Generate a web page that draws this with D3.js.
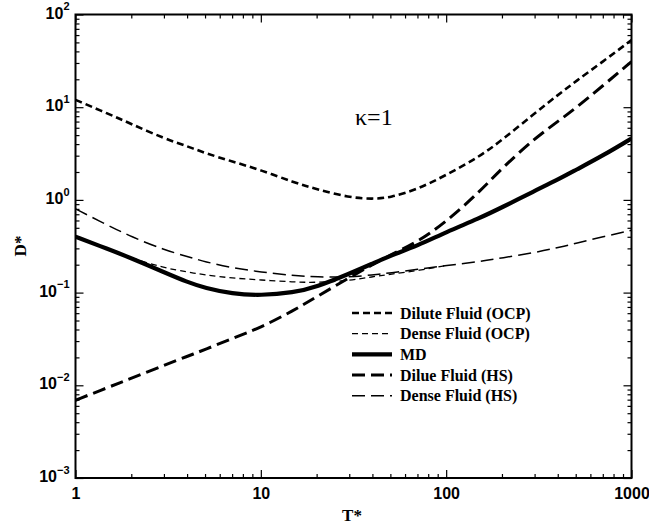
<!DOCTYPE html>
<html>
<head>
<meta charset="utf-8">
<script src="https://cdn.jsdelivr.net/npm/d3@7"></script>
<style>
  body { margin: 0; background: #fff; }
  svg { display: block; }
</style>
</head>
<body>
<svg id="chart" width="649" height="525"></svg>
<script>
// Reduced temperature grid shared by all curves
const tValues = [1, 1.5, 2, 3, 4, 5, 7, 10, 15, 20, 30, 40, 50, 70, 100, 150, 200, 300, 400, 500, 700, 1000];

// Reduced self-diffusion coefficient D* for each model (null = not computed)
const diluteOCP = [12, 8.5, 6.6, 4.6, 3.8, 3.2, 2.6, 2.1, 1.55, 1.3, 1.06, 1.02, 1.06, 1.3, 1.85, 2.9, 4.4, 8.6, 13.5, 19, 31, 53];
const denseOCP  = [0.40, 0.295, 0.235, 0.185, 0.167, 0.155, 0.143, 0.137, 0.13, 0.128, 0.135, 0.148, 0.158, 0.172, 0.196, null, null, null, null, null, null, null];
const mdValues  = [0.40, 0.295, 0.235, 0.166, 0.13, 0.112, 0.097, 0.093, 0.1, 0.115, 0.16, 0.205, 0.25, 0.32, 0.45, 0.63, 0.83, 1.25, 1.65, 2.1, 3.0, 4.6];
const diluteHS  = [0.0069, 0.0095, 0.0119, 0.0164, 0.0205, 0.0243, 0.032, 0.042, 0.064, 0.09, 0.145, 0.2, 0.255, 0.35, 0.58, 1.2, 2.2, 4.6, 7.0, 9.8, 17, 31];
const denseHS   = [0.80, 0.53, 0.40, 0.29, 0.245, 0.215, 0.185, 0.167, 0.152, 0.147, 0.147, 0.155, 0.163, 0.178, 0.196, 0.215, 0.237, 0.27, 0.305, 0.34, 0.40, 0.47];

const seriesNames = ["Dilute Fluid (OCP)", "Dense Fluid (OCP)", "MD", "Dilue Fluid (HS)", "Dense Fluid (HS)"];
const seriesValues = [diluteOCP, denseOCP, mdValues, diluteHS, denseHS];

// Axis ticks
const xMajorTicks = [1, 10, 100, 1000];
const xTickLabels = ["1", "10", "100", "1000"];
const yExponents = [-3, -2, -1, 0, 1, 2];

const annotation = "κ=1";
const xTitle = "T*";
const yTitle = "D*";

// Line styles per series
const styles = [
  { width: 2.6, dash: "7,4" },
  { width: 1.3, dash: "6,4" },
  { width: 4.2, dash: null },
  { width: 3.0, dash: "13,6" },
  { width: 1.5, dash: "13,6" }
];

const svg = d3.select("#chart");
const plotLeft = 75.5, plotRight = 631.5, plotTop = 14.5, plotBottom = 478;

const x = d3.scaleLog().domain([1, 1000]).range([plotLeft, plotRight]);
const y = d3.scaleLog().domain([1e-3, 1e2]).range([plotBottom, plotTop]);

// Minor ticks: 2..9 in each decade
const minorX = [];
for (let d = 0; d < 3; d++) for (let k = 2; k <= 9; k++) minorX.push(k * Math.pow(10, d));
const minorY = [];
for (let d = -3; d < 2; d++) for (let k = 2; k <= 9; k++) minorY.push(k * Math.pow(10, d));
const yMajor = yExponents.map(e => Math.pow(10, e));

const majorLen = 8, minorLen = 4;

function styleAxis(g) {
  g.select(".domain").remove();
  g.selectAll(".tick line").attr("stroke", "#000").attr("stroke-width", 1.2);
}

// Bottom axis with labels
svg.append("g")
  .attr("transform", `translate(0,${plotBottom})`)
  .call(d3.axisBottom(x).tickValues(xMajorTicks).tickSizeInner(-majorLen).tickSizeOuter(0).tickPadding(10)
    .tickFormat((d, i) => xTickLabels[i]))
  .call(styleAxis)
  .call(g => g.selectAll("text")
    .attr("font-family", "Liberation Sans, Arial, sans-serif")
    .attr("font-weight", "bold").attr("font-size", 16).attr("fill", "#000"));
svg.append("g")
  .attr("transform", `translate(0,${plotBottom})`)
  .call(d3.axisBottom(x).tickValues(minorX).tickSizeInner(-minorLen).tickSizeOuter(0).tickFormat(""))
  .call(styleAxis);

// Top axis (ticks only)
svg.append("g")
  .attr("transform", `translate(0,${plotTop})`)
  .call(d3.axisTop(x).tickValues(xMajorTicks).tickSizeInner(-majorLen).tickSizeOuter(0).tickFormat(""))
  .call(styleAxis);
svg.append("g")
  .attr("transform", `translate(0,${plotTop})`)
  .call(d3.axisTop(x).tickValues(minorX).tickSizeInner(-minorLen).tickSizeOuter(0).tickFormat(""))
  .call(styleAxis);

// Left axis with power-of-ten labels
svg.append("g")
  .attr("transform", `translate(${plotLeft},0)`)
  .call(d3.axisLeft(y).tickValues(yMajor).tickSizeInner(-majorLen).tickSizeOuter(0).tickPadding(0).tickFormat(""))
  .call(styleAxis)
  .call(g => g.selectAll(".tick").each(function(d, i) {
    const t = d3.select(this).append("text")
      .attr("x", -6).attr("dy", "0.35em")
      .attr("text-anchor", "end")
      .attr("font-family", "Liberation Sans, Arial, sans-serif")
      .attr("font-weight", "bold").attr("fill", "#000");
    t.append("tspan").attr("font-size", 16).text("10");
    t.append("tspan").attr("font-size", 11).attr("dy", "-0.75em").text(yExponents[i] < 0 ? "\u2212" + (-yExponents[i]) : yExponents[i]);
  }));
svg.append("g")
  .attr("transform", `translate(${plotLeft},0)`)
  .call(d3.axisLeft(y).tickValues(minorY).tickSizeInner(-minorLen).tickSizeOuter(0).tickFormat(""))
  .call(styleAxis);

// Right axis (ticks only)
svg.append("g")
  .attr("transform", `translate(${plotRight},0)`)
  .call(d3.axisRight(y).tickValues(yMajor).tickSizeInner(-majorLen).tickSizeOuter(0).tickFormat(""))
  .call(styleAxis);
svg.append("g")
  .attr("transform", `translate(${plotRight},0)`)
  .call(d3.axisRight(y).tickValues(minorY).tickSizeInner(-minorLen).tickSizeOuter(0).tickFormat(""))
  .call(styleAxis);

// Clip curves to the plotting area
svg.append("clipPath").attr("id", "plot-clip")
  .append("rect").attr("x", plotLeft).attr("y", plotTop).attr("width", plotRight - plotLeft).attr("height", plotBottom - plotTop);

const line = d3.line()
  .defined(d => d[1] != null)
  .x(d => x(d[0]))
  .y(d => y(d[1]))
  .curve(d3.curveBasis);

const curves = svg.append("g").attr("clip-path", "url(#plot-clip)");
seriesValues.forEach((vals, i) => {
  const pts = tValues.map((t, j) => [t, vals[j]]);
  curves.append("path")
    .attr("d", line(pts))
    .attr("fill", "none")
    .attr("stroke", "#000")
    .attr("stroke-width", styles[i].width)
    .attr("stroke-dasharray", styles[i].dash);
});

// Frame
svg.append("rect")
  .attr("x", plotLeft).attr("y", plotTop)
  .attr("width", plotRight - plotLeft).attr("height", plotBottom - plotTop)
  .attr("fill", "none").attr("stroke", "#000").attr("stroke-width", 2);

// Axis titles
svg.append("text")
  .attr("x", 352).attr("y", 521)
  .attr("text-anchor", "middle")
  .attr("font-family", "Liberation Serif, Times New Roman, serif")
  .attr("font-weight", "bold").attr("font-size", 17)
  .text(xTitle);
svg.append("text")
  .attr("transform", "translate(26,246) rotate(-90)")
  .attr("text-anchor", "middle")
  .attr("font-family", "Liberation Serif, Times New Roman, serif")
  .attr("font-weight", "bold").attr("font-size", 17)
  .text(yTitle);

// Annotation
svg.append("text")
  .attr("x", 355).attr("y", 125)
  .attr("font-family", "Liberation Serif, Times New Roman, serif")
  .attr("font-size", 24)
  .text(annotation);

// Legend
const legend = svg.append("g").attr("transform", "translate(352,313)");
seriesNames.forEach((name, i) => {
  const row = legend.append("g").attr("transform", `translate(0,${i * 20.7})`);
  row.append("line")
    .attr("x1", 0).attr("x2", 40).attr("y1", 0).attr("y2", 0)
    .attr("stroke", "#000")
    .attr("stroke-width", styles[i].width)
    .attr("stroke-dasharray", styles[i].dash);
  row.append("text")
    .attr("x", 48).attr("y", 0).attr("dy", "0.35em")
    .attr("font-family", "Liberation Serif, Times New Roman, serif")
    .attr("font-weight", "bold").attr("font-size", 16)
    .text(name);
});
</script>
</body>
</html>
